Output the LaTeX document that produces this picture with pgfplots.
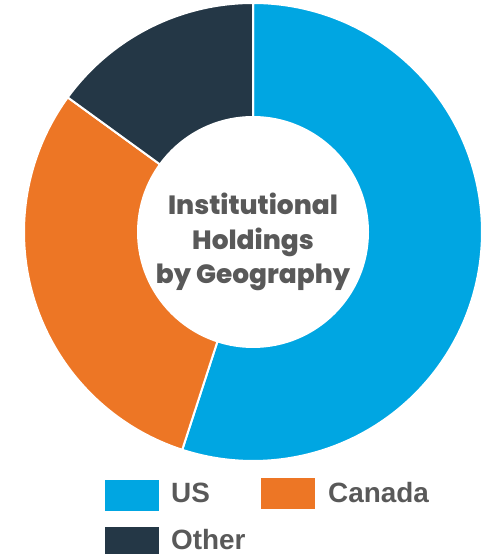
\documentclass[border=0pt]{standalone}
\usepackage{pgfplots}
\pgfplotsset{compat=1.18}
\usepackage{fontspec}
\setmainfont{Liberation Sans}
\newfontfamily\titlefont{Poppins}[UprightFont={* ExtraBold}]
\definecolor{usc}{HTML}{00A6E2}
\definecolor{cac}{HTML}{ED7625}
\definecolor{otc}{HTML}{243746}
\definecolor{txt}{HTML}{595959}
\def\vUS{55}\def\vCA{30}\def\vOT{15}
\begin{document}
\begin{tikzpicture}
\begin{axis}[width=483bp,height=554bp,scale only axis,hide axis,
  xmin=0,xmax=483,ymin=0,ymax=554,clip=false]
\path[use as bounding box] (axis cs:0,0) rectangle (axis cs:483,554);
\pgfmathsetmacro{\aA}{3.6*\vUS}
\pgfmathsetmacro{\aB}{3.6*(\vUS+\vCA)}
\addplot[fill=usc,draw=white,line width=2bp,domain=0:\aA,samples=150]
  ({253+229*sin(x)},{322+229*cos(x)}) -- (axis cs:253,322) -- cycle;
\addplot[fill=cac,draw=white,line width=2bp,domain=\aA:\aB,samples=100]
  ({253+229*sin(x)},{322+229*cos(x)}) -- (axis cs:253,322) -- cycle;
\addplot[fill=otc,draw=white,line width=2bp,domain=\aB:360,samples=60]
  ({253+229*sin(x)},{322+229*cos(x)}) -- (axis cs:253,322) -- cycle;
\fill[white] (axis cs:253,322) circle[radius=116bp];
\node[align=center,text=txt,font=\titlefont\fontsize{26.5}{35}\selectfont]
  at (axis cs:253,312) {Institutional\\Holdings\\by Geography};
% legend
\fill[usc] (axis cs:105,43) rectangle (axis cs:159,74);
\node[anchor=base west,inner sep=0,text=txt,font=\bfseries\fontsize{28}{30}\selectfont] at (axis cs:171,51) {US};
\fill[cac] (axis cs:261,45) rectangle (axis cs:315,76);
\node[anchor=base west,inner sep=0,text=txt,font=\bfseries\fontsize{28}{30}\selectfont] at (axis cs:328,51) {Canada};
\fill[otc] (axis cs:105,0) rectangle (axis cs:159,27);
\node[anchor=base west,inner sep=0,text=txt,font=\bfseries\fontsize{28}{30}\selectfont] at (axis cs:171,5) {Other};
\end{axis}
\end{tikzpicture}
\end{document}
